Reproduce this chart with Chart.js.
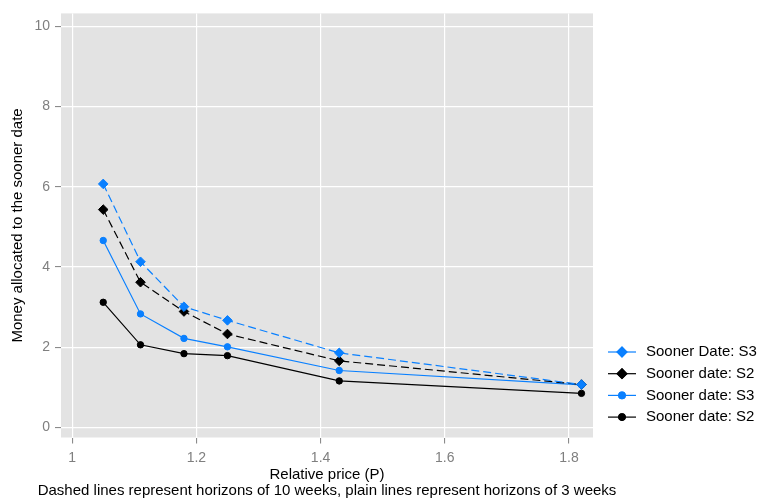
<!DOCTYPE html>
<html>
<head>
<meta charset="utf-8">
<script src="https://cdn.jsdelivr.net/npm/chart.js@4/dist/chart.umd.min.js"></script>
<style>
  html, body { margin: 0; padding: 0; background: #ffffff; }
  #wrap { width: 758px; height: 502px; position: relative; }
</style>
</head>
<body>
<div id="wrap"><canvas id="chart"></canvas></div>
<script>
// Relative price (P) on the x axis
const relativePrice = [1.05, 1.11, 1.18, 1.25, 1.43, 1.82];

// Money allocated to the sooner date, per series
const soonerS3Dashed = [6.07, 4.13, 3.01, 2.67, 1.86, 1.07]; // 10 weeks
const soonerS2Dashed = [5.43, 3.62, 2.89, 2.33, 1.66, 1.07]; // 10 weeks
const soonerS3Plain  = [4.66, 2.83, 2.22, 2.01, 1.42, 1.06]; // 3 weeks
const soonerS2Plain  = [3.12, 2.06, 1.84, 1.79, 1.16, 0.85]; // 3 weeks

const seriesLabels = ['Sooner Date: S3', 'Sooner date: S2', 'Sooner date: S3', 'Sooner date: S2'];

const xTicks = [1, 1.2, 1.4, 1.6, 1.8];
const yTicks = [0, 2, 4, 6, 8, 10];

const xTitle = 'Relative price (P)';
const caption = 'Dashed lines represent horizons of 10 weeks, plain lines represent horizons of 3 weeks';

const BLUE = '#0a80ff';
const BLACK = '#000000';
const FONT = "'Liberation Sans', Arial, Helvetica, sans-serif";

function toPoints(ys) {
    return ys.map((y, i) => ({ x: relativePrice[i], y }));
}

function makeDataset(label, ys, color, dashed, shape) {
    const diamond = shape === 'rectRot';
    return {
        label,
        data: toPoints(ys),
        borderColor: color,
        backgroundColor: color,
        borderWidth: 1.2,
        borderDash: dashed ? [8, 4] : [],
        pointStyle: shape,
        pointRadius: diamond ? 4.8 : 3.2,
        pointBorderWidth: 1,
        pointBackgroundColor: color,
        pointBorderColor: color,
        tension: 0,
        fill: false
    };
}

// fundo cinza do painel (estilo ggplot)
const panelBackground = {
    id: 'panelBackground',
    beforeDraw(chart) {
        const { ctx, chartArea: a } = chart;
        ctx.save();
        ctx.fillStyle = '#ffffff';
        ctx.fillRect(0, 0, chart.width, chart.height);
        ctx.fillStyle = '#e3e3e3';
        ctx.fillRect(a.left, a.top, a.right - a.left, a.bottom - a.top);
        ctx.restore();
    }
};

// legenda à direita: linha + marcador + texto, e a nota de rodapé
const sideLegend = {
    id: 'sideLegend',
    afterDraw(chart) {
        const { ctx, chartArea: a } = chart;
        const x0 = 608, x1 = 636, textX = 646, yStart = 352, step = 21.7;
        ctx.save();
        chart.data.datasets.forEach((ds, i) => {
            const y = yStart + i * step;
            ctx.strokeStyle = ds.borderColor;
            ctx.lineWidth = 1.2;
            ctx.setLineDash([]);
            ctx.beginPath();
            ctx.moveTo(x0, y);
            ctx.lineTo(x1, y);
            ctx.stroke();
            Chart.helpers.drawPoint(ctx, {
                pointStyle: ds.pointStyle,
                radius: ds.pointRadius,
                rotation: 0,
                borderWidth: 1
            }, (x0 + x1) / 2, y);
            ctx.fillStyle = ds.borderColor;
            ctx.fill();
            ctx.stroke();
            ctx.fillStyle = '#000000';
            ctx.font = '15px ' + FONT;
            ctx.textAlign = 'left';
            ctx.textBaseline = 'middle';
            ctx.fillText(ds.label, textX, y);
        });
        ctx.textAlign = 'center';
        ctx.fillText(caption, (a.left + a.right) / 2, 491);
        ctx.restore();
    }
};

new Chart(document.getElementById('chart'), {
    type: 'line',
    data: {
        datasets: [
            makeDataset(seriesLabels[0], soonerS3Dashed, BLUE, true, 'rectRot'),
            makeDataset(seriesLabels[1], soonerS2Dashed, BLACK, true, 'rectRot'),
            makeDataset(seriesLabels[2], soonerS3Plain, BLUE, false, 'circle'),
            makeDataset(seriesLabels[3], soonerS2Plain, BLACK, false, 'circle')
        ]
    },
    options: {
        responsive: true,
        maintainAspectRatio: false,
        animation: false,
        layout: { padding: { top: 1, right: 165, bottom: 0, left: 0 } },
        plugins: {
            legend: { display: false },
            tooltip: { enabled: false }
        },
        scales: {
            x: {
                type: 'linear',
                min: 0.982,
                max: 1.8386,
                afterBuildTicks: s => { s.ticks = xTicks.map(v => ({ value: v })); },
                afterFit: s => { s.height = 64.5; },
                border: { display: false },
                grid: { color: '#ffffff', lineWidth: 1.2, tickColor: '#7f7f7f', tickLength: 6, tickWidth: 1 },
                ticks: {
                    autoSkip: false, maxRotation: 0, padding: 6,
                    color: '#7f7f7f', font: { family: FONT, size: 14 },
                    callback: v => String(v)
                },
                title: {
                    display: true,
                    text: xTitle,
                    color: '#000000',
                    font: { family: FONT, size: 15, lineHeight: 1.2 },
                    padding: { top: 0, bottom: 18 }
                }
            },
            y: {
                type: 'linear',
                min: -0.25,
                max: 10.32,
                afterBuildTicks: s => { s.ticks = yTicks.map(v => ({ value: v })); },
                afterFit: s => { s.width = 61; },
                border: { display: false },
                grid: { color: '#ffffff', lineWidth: 1.2, tickColor: '#7f7f7f', tickLength: 6, tickWidth: 1 },
                ticks: {
                    padding: 5,
                    color: '#7f7f7f', font: { family: FONT, size: 14 },
                    callback: v => String(v)
                },
                title: {
                    display: true,
                    text: 'Money allocated to the sooner date',
                    color: '#000000',
                    font: { family: FONT, size: 15, lineHeight: 1.2 },
                    padding: { top: 9, bottom: 0 }
                }
            }
        }
    },
    plugins: [panelBackground, sideLegend]
});
</script>
</body>
</html>
